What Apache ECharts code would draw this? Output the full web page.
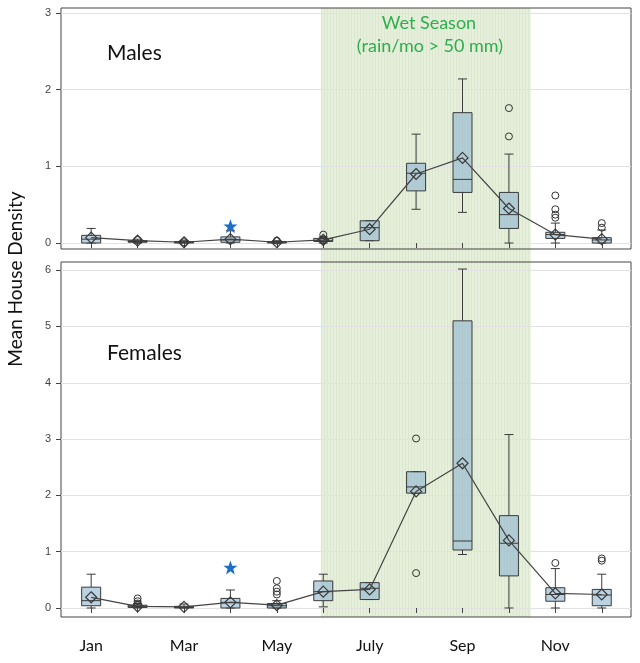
<!DOCTYPE html>
<html lang="en">
  <head>
    <meta charset="UTF-8" />
    <title>Mean House Density</title>
    <script src="https://cdn.jsdelivr.net/npm/echarts@6/dist/echarts.min.js"></script>
    <style>
      html, body { margin: 0; padding: 0; background: #fff; }
      #main { width: 640px; height: 663px; }
    </style>
  </head>
  <body>
    <div id="main"></div>
  </body>
  <script>
    // months and tick labels
    const months = [1, 2, 3, 4, 5, 6, 7, 8, 9, 10, 11, 12];
    const monthNames = ["Jan", "Feb", "Mar", "Apr", "May", "Jun", "July", "Aug", "Sep", "Oct", "Nov", "Dec"];
    const labelMonths = [1, 3, 5, 7, 9, 11];
    const maleTicks = [0, 1, 2, 3];
    const femaleTicks = [0, 1, 2, 3, 4, 5, 6];
    // wet season (rain/mo > 50 mm), in month units
    const wetSeason = [5.95, 10.47];

    // males: [min, Q1, median, Q3, max]
    const maleBoxes = [
      [0.0, 0.0, 0.05, 0.1, 0.19],
      [0.0, 0.01, 0.02, 0.03, 0.05],
      [0.0, 0.0, 0.01, 0.02, 0.03],
      [0.0, 0.01, 0.04, 0.08, 0.16],
      [0.0, 0.0, 0.01, 0.02, 0.03],
      [0.0, 0.02, 0.03, 0.06, 0.08],
      [0.03, 0.03, 0.2, 0.29, 0.29],
      [0.44, 0.68, 0.91, 1.04, 1.42],
      [0.4, 0.66, 0.83, 1.7, 2.14],
      [0.0, 0.19, 0.37, 0.66, 1.16],
      [0.0, 0.06, 0.11, 0.14, 0.26],
      [0.0, 0.0, 0.04, 0.07, 0.17],
    ];
    const maleMeans = [0.07, 0.03, 0.01, 0.05, 0.01, 0.04, 0.18, 0.9, 1.11, 0.45, 0.11, 0.05];
    const maleOutliers = [
      [2, 0.04], [3, 0.01], [5, 0.03], [6, 0.04], [6, 0.11],
      [10, 1.39], [10, 1.76],
      [11, 0.33], [11, 0.37], [11, 0.44], [11, 0.62],
      [12, 0.2], [12, 0.26],
    ];
    const maleStar = [[4, 0.22]];

    // females: [min, Q1, median, Q3, max]
    const femaleBoxes = [
      [0.0, 0.04, 0.13, 0.37, 0.6],
      [0.0, 0.01, 0.03, 0.05, 0.08],
      [0.0, 0.0, 0.01, 0.03, 0.07],
      [0.0, 0.0, 0.1, 0.17, 0.32],
      [0.0, 0.0, 0.04, 0.08, 0.13],
      [0.02, 0.13, 0.29, 0.48, 0.6],
      [0.15, 0.15, 0.35, 0.45, 0.45],
      [2.04, 2.04, 2.15, 2.42, 2.42],
      [0.95, 1.03, 1.19, 5.1, 6.02],
      [0.0, 0.57, 1.15, 1.64, 3.08],
      [0.0, 0.12, 0.24, 0.36, 0.7],
      [0.0, 0.04, 0.23, 0.33, 0.6],
    ];
    const femaleMeans = [0.19, 0.03, 0.02, 0.1, 0.05, 0.29, 0.33, 2.07, 2.57, 1.2, 0.26, 0.24];
    const femaleOutliers = [
      [2, 0.08], [2, 0.12], [2, 0.17],
      [5, 0.24], [5, 0.29], [5, 0.35], [5, 0.48],
      [8, 0.62], [8, 3.01],
      [11, 0.8],
      [12, 0.84], [12, 0.88],
    ];
    const femaleStar = [[4, 0.72]];

    var chartDom = document.getElementById("main");
    var myChart = echarts.init(chartDom);

    // faint vertical stripes of the wet season band
    var stripe = document.createElement("canvas");
    stripe.width = 3;
    stripe.height = 4;
    var ctx = stripe.getContext("2d");
    ctx.fillStyle = "#e6efdb";
    ctx.fillRect(0, 0, 3, 4);
    ctx.fillStyle = "#dce8ce";
    ctx.fillRect(0, 0, 1, 4);

    var starPath =
      "path://M12,0 L14.9,8.3 L23.4,8.3 L16.5,13.4 L19.1,21.8 L12,16.7 L4.9,21.8 L7.5,13.4 L0.6,8.3 L9.1,8.3 Z";

    function renderBox(params, api) {
      var x = api.value(0);
      var lo = api.coord([x, api.value(1)]);
      var q1 = api.coord([x, api.value(2)]);
      var md = api.coord([x, api.value(3)]);
      var q3 = api.coord([x, api.value(4)]);
      var hi = api.coord([x, api.value(5)]);
      var w = 19;
      var cap = 9;
      var line = { stroke: "#3a3a3a", lineWidth: 1 };
      return {
        type: "group",
        children: [
          { type: "line", shape: { x1: hi[0], y1: hi[1], x2: q3[0], y2: q3[1] }, style: line },
          { type: "line", shape: { x1: lo[0], y1: lo[1], x2: q1[0], y2: q1[1] }, style: line },
          { type: "line", shape: { x1: hi[0] - cap / 2, y1: hi[1], x2: hi[0] + cap / 2, y2: hi[1] }, style: line },
          { type: "line", shape: { x1: lo[0] - cap / 2, y1: lo[1], x2: lo[0] + cap / 2, y2: lo[1] }, style: line },
          {
            type: "rect",
            shape: { x: q3[0] - w / 2, y: q3[1], width: w, height: Math.max(q1[1] - q3[1], 1.5) },
            style: { fill: "rgba(142,180,208,0.6)", stroke: "#3a3a3a", lineWidth: 1 },
          },
          { type: "line", shape: { x1: md[0] - w / 2, y1: md[1], x2: md[0] + w / 2, y2: md[1] }, style: line },
        ],
      };
    }

    function boxData(boxes) {
      return boxes.map(function (b, i) {
        return [months[i]].concat(b);
      });
    }
    function meanData(means) {
      return means.map(function (v, i) {
        return [months[i], v];
      });
    }

    function xAxisFor(gridIndex, withLabels) {
      return {
        type: "value",
        gridIndex: gridIndex,
        min: 0.35,
        max: 12.63,
        axisLine: { show: false },
        splitLine: { show: false },
        axisTick: { show: true, customValues: months, length: 5, lineStyle: { color: "#444" } },
        axisLabel: {
          show: withLabels,
          customValues: labelMonths,
          formatter: function (v) {
            return monthNames[v - 1];
          },
          fontFamily: "Lato",
          fontSize: 16,
          color: "#111",
          margin: 21,
        },
      };
    }
    function yAxisFor(gridIndex, min, max, ticks) {
      return {
        type: "value",
        gridIndex: gridIndex,
        min: min,
        max: max,
        axisLine: { show: false },
        axisTick: { show: true, customValues: ticks, length: 5, lineStyle: { color: "#444" } },
        axisLabel: {
          customValues: ticks,
          fontFamily: "Liberation Sans",
          fontSize: 11,
          color: "#444",
          margin: 10,
        },
        splitLine: { show: true, lineStyle: { color: "#e2e2e2", width: 1 } },
      };
    }

    function panelSeries(idx, boxes, means, outliers, star) {
      return [
        {
          type: "custom",
          xAxisIndex: idx,
          yAxisIndex: idx,
          renderItem: renderBox,
          data: boxData(boxes),
          encode: { x: 0, y: [1, 2, 3, 4, 5] },
          clip: false,
          z: 3,
        },
        {
          type: "line",
          xAxisIndex: idx,
          yAxisIndex: idx,
          data: meanData(means),
          symbol: "diamond",
          symbolSize: 11,
          showAllSymbol: true,
          lineStyle: { color: "#444", width: 1.2 },
          itemStyle: { color: "rgba(0,0,0,0)", borderColor: "#3a3a3a", borderWidth: 1.2 },
          z: 4,
        },
        {
          type: "scatter",
          xAxisIndex: idx,
          yAxisIndex: idx,
          data: outliers,
          symbol: "circle",
          symbolSize: 7,
          itemStyle: { color: "rgba(255,255,255,0)", borderColor: "#333", borderWidth: 1, opacity: 1 },
          z: 4,
        },
        {
          type: "scatter",
          xAxisIndex: idx,
          yAxisIndex: idx,
          data: star,
          symbol: starPath,
          symbolSize: 14,
          itemStyle: { color: "#1a6ec4", opacity: 1 },
          z: 4,
        },
      ];
    }

    var option = {
      animation: false,
      backgroundColor: "#fff",
      grid: [
        { left: 61, right: 9, top: 8, height: 241, show: true, borderColor: "#444", borderWidth: 1 },
        { left: 61, right: 9, top: 262, height: 355, show: true, borderColor: "#444", borderWidth: 1 },
        { left: 61, right: 9, top: 8, height: 609, show: false },
      ],
      xAxis: [
        xAxisFor(0, false),
        xAxisFor(1, true),
        { type: "value", gridIndex: 2, min: 0.35, max: 12.63, show: false },
      ],
      yAxis: [
        yAxisFor(0, -0.078, 3.065, maleTicks),
        yAxisFor(1, -0.16, 6.145, femaleTicks),
        { type: "value", gridIndex: 2, min: 0, max: 1, show: false },
      ],
      series: [
        {
          type: "line",
          xAxisIndex: 2,
          yAxisIndex: 2,
          data: [],
          z: -1,
          markArea: {
            silent: true,
            z: -1,
            itemStyle: { color: { image: stripe, repeat: "repeat" } },
            data: [[{ xAxis: wetSeason[0] }, { xAxis: wetSeason[1] }]],
          },
        },
      ]
        .concat(panelSeries(0, maleBoxes, maleMeans, maleOutliers, maleStar))
        .concat(panelSeries(1, femaleBoxes, femaleMeans, femaleOutliers, femaleStar)),
      graphic: [
        {
          type: "text",
          left: 107,
          top: 43,
          style: { text: "Males", fontFamily: "Lato", fontSize: 21, fill: "#111" },
        },
        {
          type: "text",
          left: 107,
          top: 343,
          style: { text: "Females", fontFamily: "Lato", fontSize: 21, fill: "#111" },
        },
        {
          type: "text",
          x: 429,
          y: 23,
          style: {
            text: "Wet Season",
            fontFamily: "Lato",
            fontSize: 18,
            fill: "#2eae4e",
            align: "center",
            verticalAlign: "middle",
          },
        },
        {
          type: "text",
          x: 430,
          y: 46,
          style: {
            text: "(rain/mo > 50 mm)",
            fontFamily: "Lato",
            fontSize: 18,
            fill: "#2eae4e",
            align: "center",
            verticalAlign: "middle",
          },
        },
        {
          type: "text",
          x: 16,
          y: 279,
          rotation: Math.PI / 2,
          style: {
            text: "Mean House Density",
            fontFamily: "Lato",
            fontSize: 19,
            fill: "#111",
            align: "center",
            verticalAlign: "middle",
          },
        },
      ],
    };
    option && myChart.setOption(option);
  </script>
</html>
